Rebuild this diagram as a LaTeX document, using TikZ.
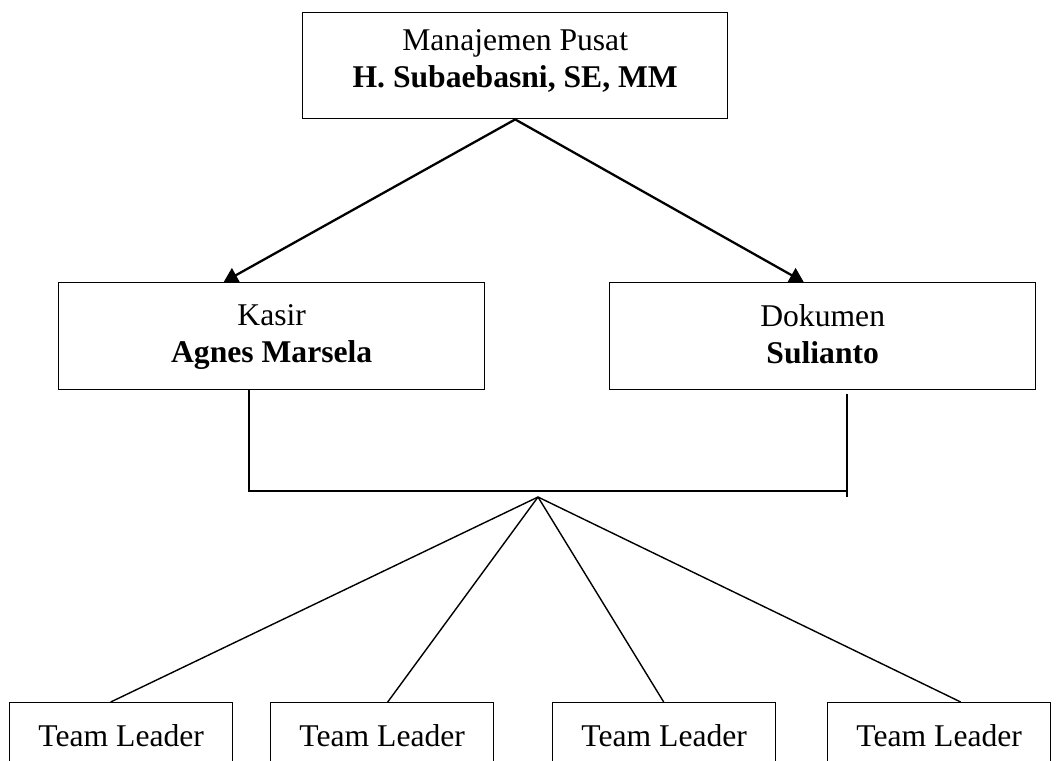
\documentclass[tikz,border=0pt]{standalone}
\usepackage{fontspec}
\setmainfont{Liberation Serif}
\usetikzlibrary{arrows.meta, positioning, calc}

\begin{document}
\begin{tikzpicture}[
  >={Triangle[length=0.28cm, width=0.32cm]},
  font=\fontsize{18}{21}\selectfont,
  orgbox/.style={draw, line width=0.8pt, align=center, inner sep=0pt},
  headbox/.style={orgbox, minimum width=8.5cm, minimum height=2.12cm},
  unitbox/.style={orgbox, minimum width=8.52cm, minimum height=2.14cm},
  teambox/.style={orgbox, minimum width=4.46cm, minimum height=1.3cm},
  arrowlink/.style={->, line width=1.3pt},
  busline/.style={line width=1.1pt},
  fanline/.style={line width=0.8pt}
]
  \useasboundingbox (0,0) rectangle (21.14,-15.2);

  % head
  \node[headbox, anchor=north west, text depth=0.3cm] (pusat) at (6.04,-0.24)
    {Manajemen Pusat\\\textbf{H. Subaebasni, SE, MM}};

  % units
  \node[unitbox, anchor=north west, text depth=0.1cm] (kasir) at (1.16,-5.64)
    {Kasir\\\textbf{Agnes Marsela}};
  \node[unitbox, anchor=north west, text depth=0.1cm] (dokumen) at (12.18,-5.64)
    {Dokumen\\\textbf{Sulianto}};

  \draw[arrowlink] (pusat.south) -- ($(kasir.north)+(-0.96,0)$);
  \draw[arrowlink] (pusat.south) -- ($(dokumen.north)+(-0.38,0)$);

  % bus under the units
  \coordinate (busL) at (4.98,-9.82);
  \coordinate (busR) at (16.94,-9.82);
  \coordinate (apex) at (10.76,-9.94);
  \draw[busline] (busL |- kasir.south) -- (busL) -- (busR);
  \draw[busline] (16.94,-7.88) -- (16.94,-9.94);

  % team leaders
  \node[teambox, anchor=north west] (team1) at (0.18,-14.04) {Team Leader};
  \node[teambox, anchor=north west] (team2) at (5.40,-14.04) {Team Leader};
  \node[teambox, anchor=north west] (team3) at (11.04,-14.04) {Team Leader};
  \node[teambox, anchor=north west] (team4) at (16.54,-14.04) {Team Leader};

  \draw[fanline] (apex) -- ($(team1.north)+(-0.21,0)$);
  \draw[fanline] (apex) -- ($(team2.north)+(0.11,0)$);
  \draw[fanline] (apex) -- ($(team3.north)+(-0.01,0)$);
  \draw[fanline] (apex) -- ($(team4.north)+(0.43,0)$);
\end{tikzpicture}
\end{document}
